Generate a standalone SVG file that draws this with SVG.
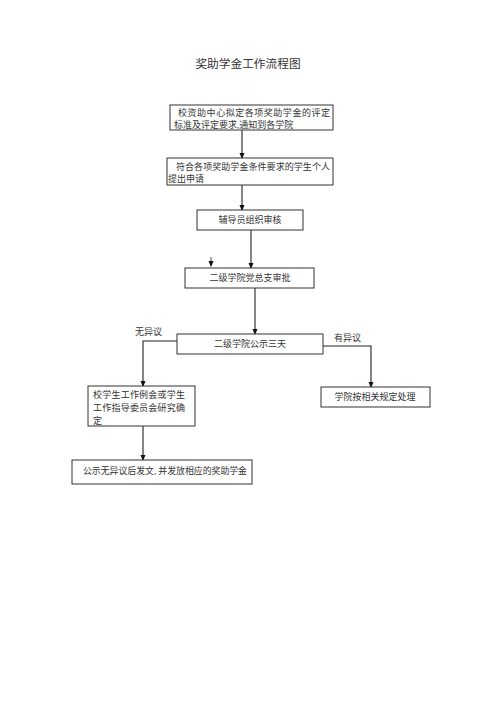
<svg xmlns="http://www.w3.org/2000/svg" width="500" height="707" viewBox="0 0 500 707">
<defs>
<style>
text{font-family:"Liberation Serif","Noto Sans CJK SC",serif;fill:#333;font-size:9px}
.t{font-size:11.7px}
.c{text-anchor:middle}
rect{fill:#fff;stroke:#333;stroke-width:1}
.ln{fill:none;stroke:#222;stroke-width:1.1}
</style>
<marker id="ah" markerWidth="6" markerHeight="6" refX="5" refY="3" orient="auto" markerUnits="userSpaceOnUse">
<path d="M0,0.5 L6,3 L0,5.5 Z" fill="#111"/>
</marker>
</defs>
<rect x="0" y="0" width="500" height="707" style="fill:#fff;stroke:none"/>
<text class="t c" x="248" y="68">奖助学金工作流程图</text>

<g id="connectors">
<line class="ln" x1="242" y1="130" x2="242" y2="158" marker-end="url(#ah)"/>
<line class="ln" x1="242" y1="185" x2="242" y2="210" marker-end="url(#ah)"/>
<line class="ln" x1="251" y1="230" x2="251" y2="268" marker-end="url(#ah)"/>
<line class="ln" x1="211" y1="257" x2="211" y2="266" marker-end="url(#ah)" style="stroke-width:0.8"/>
<line class="ln" x1="255" y1="288" x2="255" y2="334" marker-end="url(#ah)"/>
<polyline class="ln" points="177,341 143,341 143,386" marker-end="url(#ah)"/>
<polyline class="ln" points="323,346 371,346 371,387" marker-end="url(#ah)"/>
<line class="ln" x1="143" y1="426" x2="143" y2="460" marker-end="url(#ah)"/>
<text x="135" y="335">无异议</text>
<text x="334" y="341">有异议</text>
</g>

<g id="n1">
<rect x="170" y="105" width="163" height="25"/>
<text x="178" y="116" textLength="152" lengthAdjust="spacing">校资助中心拟定各项奖助学金的评定</text>
<text x="174" y="128">标准及评定要求,通知到各学院</text>
</g>
<g id="n2">
<rect x="167" y="158" width="166" height="27"/>
<text x="176" y="170" textLength="154" lengthAdjust="spacing">符合各项奖助学金条件要求的学生个人</text>
<text x="168" y="182">提出申请</text>
</g>
<g id="n3">
<rect x="197" y="210" width="106" height="20"/>
<text class="c" x="250" y="223">辅导员组织审核</text>
</g>
<g id="n4">
<rect x="185" y="268" width="129" height="20"/>
<text class="c" x="250" y="281">二级学院党总支审批</text>
</g>
<g id="n5">
<rect x="177" y="334" width="146" height="20"/>
<text class="c" x="250" y="347">二级学院公示三天</text>
</g>
<g id="n6">
<rect x="321" y="387" width="109" height="20"/>
<text class="c" x="375" y="400">学院按相关规定处理</text>
</g>
<g id="n7">
<rect x="88" y="386" width="107" height="40"/>
<text x="93" y="398" textLength="92" lengthAdjust="spacing">校学生工作例会或学生</text>
<text x="93" y="411" textLength="92" lengthAdjust="spacing">工作指导委员会研究确</text>
<text x="93" y="424">定</text>
</g>
<g id="n8">
<rect x="72" y="460" width="180" height="24"/>
<text x="83" y="474" textLength="164" lengthAdjust="spacingAndGlyphs">公示无异议后发文, 并发放相应的奖助学金</text>
</g>
</svg>
